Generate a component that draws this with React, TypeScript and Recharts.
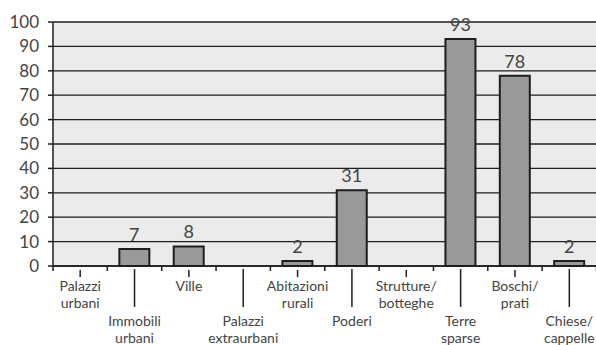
import { BarChart, Bar, XAxis, YAxis, CartesianGrid, LabelList } from "recharts"

// categories and counts
const categories = [
  "Palazzi urbani",
  "Immobili urbani",
  "Ville",
  "Palazzi extraurbani",
  "Abitazioni rurali",
  "Poderi",
  "Strutture/ botteghe",
  "Terre sparse",
  "Boschi/ prati",
  "Chiese/ cappelle",
]
const counts = [0, 7, 8, 0, 2, 31, 0, 93, 78, 2]
const yTicks = [0, 10, 20, 30, 40, 50, 60, 70, 80, 90, 100]

const data = categories.map((name, i) => ({ name, value: counts[i] }))

const FONT = "Lato, 'Open Sans', sans-serif"
const TEXT = "#444"
const INK = "#1e1e1e"

// staggered category labels with boundary ticks
function CategoryTick(props: any) {
  const { x, y, payload, index } = props
  const half = payload && payload.offset ? payload.offset : 27.2
  const lines: string[] = String(payload.value).split(" ")
  const low = index % 2 === 1
  const base = low ? 60 : 25
  return (
    <g>
      <line x1={x - half} x2={x - half} y1={y} y2={y + 5} stroke={INK} strokeWidth={1.5} />
      {index === categories.length - 1 && (
        <line x1={x + half} x2={x + half} y1={y} y2={y + 5} stroke={INK} strokeWidth={1.5} />
      )}
      <line x1={x} x2={x} y1={y + (low ? 3 : 4)} y2={y + (low ? 41 : 11)} stroke={INK} strokeWidth={1.5} />
      <text textAnchor="middle" fontFamily={FONT} fontSize={14} fill={TEXT}>
        {lines.map((l, k) => (
          <tspan key={k} x={x} y={y + base + k * 16.5}>
            {l}
          </tspan>
        ))}
      </text>
    </g>
  )
}

export default function App() {
  return (
    <div style={{ position: "absolute", left: 0, top: 0, width: 596, height: 345, overflow: "hidden", background: "#fff" }}>
      <BarChart
        width={600}
        height={345}
        data={data}
        margin={{ top: 22, right: 3.5, left: 0, bottom: 0 }}
        barSize={30}
      >
        <CartesianGrid vertical={false} fill="#ebebeb" stroke={INK} strokeWidth={1.3} />
        <XAxis
          dataKey="name"
          interval={0}
          height={79}
          tickSize={0}
          tickMargin={0}
          tickLine={false}
          axisLine={{ stroke: INK, strokeWidth: 1.5 }}
          tick={<CategoryTick />}
        />
        <YAxis
          domain={[0, 100]}
          ticks={yTicks}
          interval={0}
          width={53}
          tickSize={5}
          tickMargin={9}
          axisLine={{ stroke: INK, strokeWidth: 1.5 }}
          tickLine={{ stroke: INK, strokeWidth: 1.5 }}
          tick={{ fill: TEXT, fontSize: 17, fontFamily: FONT }}
        />
        <Bar dataKey="value" fill="#999999" stroke={INK} strokeWidth={2} isAnimationActive={false}>
          <LabelList
            dataKey="value"
            position="top"
            offset={8}
            formatter={(v: any) => (v ? v : "")}
            fill={TEXT}
            fontSize={18}
            fontFamily={FONT}
          />
        </Bar>
      </BarChart>
    </div>
  )
}
